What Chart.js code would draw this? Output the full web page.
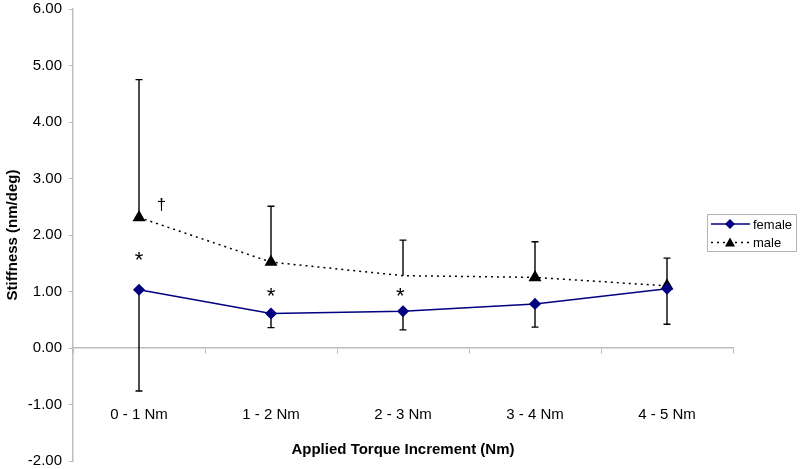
<!DOCTYPE html>
<html lang="en">
<head>
    <meta charset="UTF-8">
    <title>Stiffness by Applied Torque Increment</title>
    <script src="https://cdn.jsdelivr.net/npm/chart.js"></script>
    <style>
        html, body { margin: 0; padding: 0; background: #ffffff; }
        #wrap { width: 800px; height: 469px; }
    </style>
</head>
<body>
    <div id="wrap"><canvas id="stiffChart" width="800" height="469"></canvas></div>

    <script>
        // data
        const categories = ['0 - 1 Nm', '1 - 2 Nm', '2 - 3 Nm', '3 - 4 Nm', '4 - 5 Nm'];
        const femaleValues = [1.03, 0.61, 0.65, 0.78, 1.05];
        const femaleLower = [-0.76, 0.36, 0.32, 0.37, 0.42];
        const maleValues = [2.31, 1.52, 1.28, 1.25, 1.10];
        const maleUpper = [4.75, 2.51, 1.91, 1.88, 1.59];
        // significance marks: label, category index, value
        const markLabels = ['*', '*', '*', '\u2020'];
        const markCats = [0, 1, 1.98, 0.17];
        const markValues = [1.63, 0.99, 1.0, 2.54];
        const xTitle = 'Applied Torque Increment (Nm)';

        const FONT = '"Liberation Sans", Arial, sans-serif';
        const axisGray = '#bdbdbd';

        // error bars, drawn under the markers
        const errorBars = {
            id: 'errorBars',
            beforeDatasetsDraw(chart) {
                const ctx = chart.ctx, x = chart.scales.x, y = chart.scales.y;
                ctx.save();
                ctx.strokeStyle = '#000';
                ctx.lineWidth = 1.4;
                const bar = (i, from, to) => {
                    const px = x.getPixelForValue(i);
                    const y0 = y.getPixelForValue(from), y1 = y.getPixelForValue(to);
                    ctx.beginPath();
                    ctx.moveTo(px, y0); ctx.lineTo(px, y1);
                    ctx.moveTo(px - 3.5, y1); ctx.lineTo(px + 3.5, y1);
                    ctx.stroke();
                };
                categories.forEach((c, i) => {
                    bar(i, femaleValues[i], femaleLower[i]);
                    bar(i, maleValues[i], maleUpper[i]);
                });
                ctx.restore();
            }
        };

        // asterisks / dagger, x title and the boxed legend
        const extras = {
            id: 'extras',
            afterDraw(chart) {
                const ctx = chart.ctx, x = chart.scales.x, y = chart.scales.y;
                const area = chart.chartArea;
                ctx.save();
                ctx.fillStyle = '#000';
                ctx.textAlign = 'center';
                ctx.textBaseline = 'alphabetic';
                markLabels.forEach((t, i) => {
                    ctx.font = (t === '*' ? '22px ' : '17px ') + FONT;
                    const m = ctx.measureText(t);
                    const off = (m.actualBoundingBoxAscent - m.actualBoundingBoxDescent) / 2;
                    ctx.fillText(t, x.getPixelForValue(markCats[i]), y.getPixelForValue(markValues[i]) + off);
                });

                ctx.font = 'bold 15px ' + FONT;
                ctx.textBaseline = 'middle';
                ctx.fillText(xTitle, (area.left + area.right) / 2, y.getPixelForValue(-1.8));

                // legend
                const lx = 707, ly = 214, lw = 89, lh = 37;
                ctx.strokeStyle = '#b4b4b4';
                ctx.lineWidth = 1;
                ctx.strokeRect(lx + 0.5, ly + 0.5, lw, lh);
                chart.data.datasets.forEach((ds, k) => {
                    const cy = ly + 10 + k * 18.5;
                    ctx.strokeStyle = ds.borderColor;
                    ctx.lineWidth = ds.borderWidth;
                    ctx.setLineDash(ds.borderDash || []);
                    ctx.beginPath();
                    ctx.moveTo(lx + 4, cy); ctx.lineTo(lx + 43, cy);
                    ctx.stroke();
                    ctx.setLineDash([]);
                    ctx.fillStyle = ds.pointBackgroundColor;
                    const r = 5;
                    ctx.beginPath();
                    if (ds.pointStyle === 'rectRot') {
                        ctx.moveTo(lx + 23, cy - r); ctx.lineTo(lx + 23 + r, cy);
                        ctx.lineTo(lx + 23, cy + r); ctx.lineTo(lx + 23 - r, cy);
                    } else {
                        ctx.moveTo(lx + 23, cy - r); ctx.lineTo(lx + 23 + r, cy + r - 1);
                        ctx.lineTo(lx + 23 - r, cy + r - 1);
                    }
                    ctx.closePath();
                    ctx.fill();
                    ctx.fillStyle = '#000';
                    ctx.font = '13px ' + FONT;
                    ctx.textAlign = 'left';
                    ctx.textBaseline = 'middle';
                    ctx.fillText(ds.label, lx + 46, cy + 1);
                });
                ctx.restore();
            }
        };

        new Chart(document.getElementById('stiffChart'), {
            type: 'line',
            data: {
                labels: categories,
                datasets: [{
                    label: 'female',
                    data: femaleValues,
                    borderColor: '#000080',
                    borderWidth: 1.5,
                    pointStyle: 'rectRot',
                    pointRadius: 5,
                    pointBackgroundColor: '#000080',
                    pointBorderColor: '#000080',
                    tension: 0
                }, {
                    label: 'male',
                    data: maleValues,
                    borderColor: '#000000',
                    borderWidth: 1.5,
                    borderDash: [2, 4],
                    pointStyle: 'triangle',
                    pointRadius: [6, 6, 0, 6, 6],
                    pointBackgroundColor: '#000000',
                    pointBorderColor: '#000000',
                    tension: 0
                }]
            },
            options: {
                responsive: false,
                animation: false,
                layout: { padding: { top: 9, right: 67, bottom: 8, left: 0 } },
                plugins: { legend: { display: false }, tooltip: { enabled: false } },
                scales: {
                    x: {
                        position: { y: 0 },
                        offset: true,
                        grid: { drawOnChartArea: false, tickLength: 5, color: axisGray, offset: true },
                        border: { color: axisGray, width: 1.5 },
                        ticks: { color: '#000', padding: 53, font: { family: FONT, size: 15 } }
                    },
                    y: {
                        min: -2,
                        max: 6,
                        afterFit(scale) {
                            scale.width = 73;
                            scale.paddingTop = 0;
                            scale.paddingBottom = 0;
                        },
                        grid: { drawOnChartArea: false, tickLength: 4, color: axisGray },
                        border: { color: axisGray, width: 1.5 },
                        ticks: {
                            stepSize: 1,
                            color: '#000',
                            padding: 7,
                            font: { family: FONT, size: 15 },
                            callback: v => v.toFixed(2)
                        },
                        title: {
                            display: true,
                            text: 'Stiffness (nm/deg)',
                            color: '#000',
                            font: { family: FONT, size: 15, weight: 'bold' }
                        }
                    }
                }
            },
            plugins: [errorBars, extras]
        });
    </script>
</body>
</html>
